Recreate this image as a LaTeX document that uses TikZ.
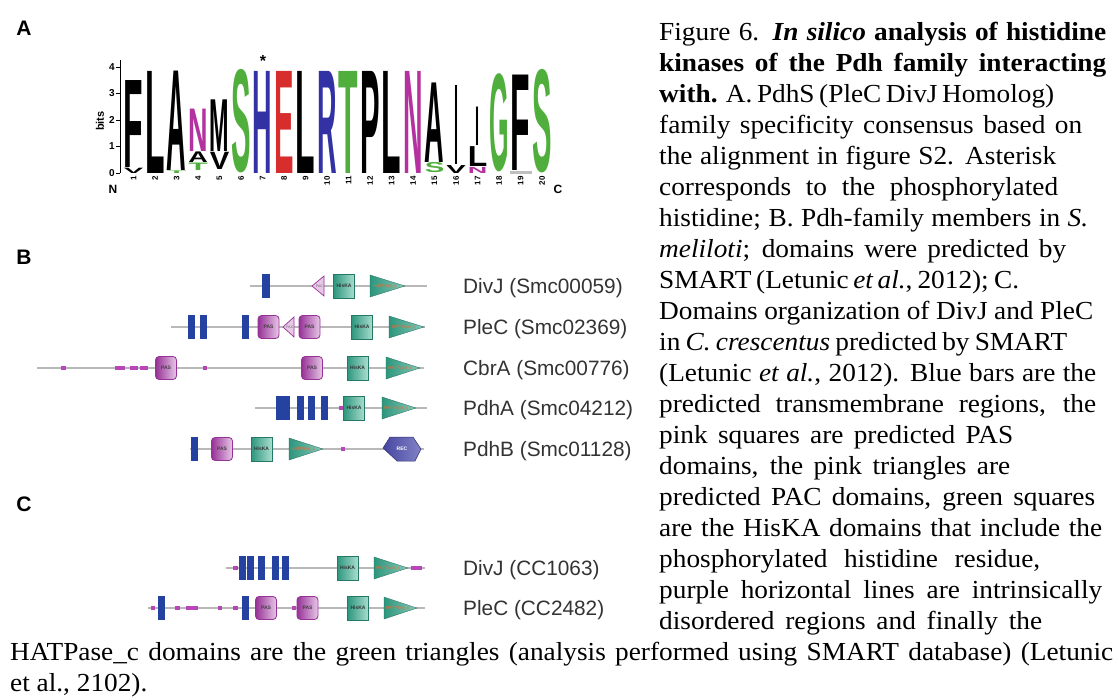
\documentclass[tikz,border=0pt]{standalone}
\usepackage{fontspec}
\usepackage{graphicx}
\setmainfont{Liberation Serif}
\newfontfamily\capfont[FakeStretch=1.05]{Liberation Serif}
\newfontfamily\arialf{Liberation Sans}
\definecolor{tmblue}{RGB}{38,66,160}
\definecolor{paspur}{RGB}{150,50,150}
\definecolor{paslight}{RGB}{232,200,232}
\definecolor{teal1}{RGB}{45,150,125}
\definecolor{teal2}{RGB}{170,222,208}
\definecolor{disp}{RGB}{185,70,185}
\definecolor{lgreen}{RGB}{80,175,60}
\definecolor{lblue}{RGB}{50,50,165}
\definecolor{lred}{RGB}{215,45,45}
\definecolor{lmag}{RGB}{180,50,160}
\definecolor{hatorange}{RGB}{255,100,40}
\definecolor{recblue}{RGB}{70,70,160}
\definecolor{reclight}{RGB}{130,130,200}
\tikzset{
 bbone/.style={draw=black!28, line width=1.6pt},
 tmbar/.style={rectangle, fill=tmblue, minimum width=7.5pt, minimum height=24pt, inner sep=0pt},
 pas/.style={rectangle, rounded corners=3.5pt, draw=paspur, line width=0.8pt, left color=paspur, right color=paslight, minimum width=21pt, minimum height=23pt, inner sep=0pt, font=\arialf\bfseries\fontsize{5}{5}\selectfont, text=black!75},
 hiska/.style={rectangle, draw=teal1!80!black, line width=0.5pt, left color=teal1, right color=teal2, minimum width=21pt, minimum height=24pt, inner sep=0pt, font=\arialf\bfseries\fontsize{5}{5}\selectfont, text=black!80},
 hattxt/.style={font=\arialf\fontsize{4.5}{4.5}\selectfont, text=hatorange, inner sep=0pt},
 hatp/.style={left color=teal1, right color=teal2!70!teal1, draw=teal1!70!black, line width=0.3pt},
 pacp/.style={fill=paslight, draw=paspur, line width=0.7pt},
 dis/.style={draw=disp, line width=4pt},
 recp/.style={left color=recblue, right color=reclight, draw=recblue!70!black, line width=0.5pt},
 lbl/.style={font=\arialf\fontsize{20.8}{24}\selectfont, text=black!80, inner sep=0pt, anchor=base west},
 panel/.style={font=\arialf\bfseries\fontsize{21}{24}\selectfont, inner sep=0pt},
 caption/.style={anchor=base west, inner sep=0pt, font=\capfont\fontsize{26}{31}\selectfont},
}
\newcommand\domHAT[4]{%
 \path[hatp] (#2,#4-11) -- (#3,#4) -- (#2,#4+11) -- cycle;
 \node[hattxt] (#1) at ({#2+(#3-#2)*0.42},#4) {HATPase\_c};}
\newcommand\domPAC[4]{%
 \path[pacp] (#3,#4-10) -- (#2,#4) -- (#3,#4+10) -- cycle;
 \node[font=\arialf\fontsize{3.5}{3.5}\selectfont, text=black!60, inner sep=0pt] (#1) at ({#2+(#3-#2)*0.62},#4) {PAC};}
\newcommand\domDis[3]{\draw[dis] (#1,#3) -- (#2,#3);}
\newcommand\logoL[7]{%
 \pgfmathsetmacro\lgh{(#4-#3)*26.5}%
 \node[anchor=south, inner sep=0pt, outer sep=0pt, text=#5] (#1) at ({112+21.5*#2},{173-26.5*#3}) {\resizebox{#7pt}{\lgh pt}{\arialf\bfseries #6}};}
\newcommand\capL[5]{%
 \node[caption] (#1) at (#2,{40+31*(#3-1)}) {\makebox[#4pt][s]{#5}};}
\begin{document}
\begin{tikzpicture}[x=1pt,y=-1pt]
\fill[white] (0,0) rectangle (1119,699);
\useasboundingbox (0,0) rectangle (1119,699);
% panel letters
\node[panel] (pA) at (24,28) {A};
\node[panel] (pB) at (24,257) {B};
\node[panel] (pC) at (24,504) {C};
% ---------- logo ----------
\draw[line width=0.8pt] (120,60) -- (120,173);
\foreach \b in {0,...,4}{
 \draw[line width=0.8pt] (116,{173-26.5*\b}) -- (120,{173-26.5*\b});
 \node[anchor=east, inner sep=0pt, font=\arialf\bfseries\fontsize{10}{10}\selectfont] (t\b) at (115,{173-26.5*\b}) {\b};
}
\node[rotate=90, inner sep=0pt, font=\arialf\bfseries\fontsize{11}{11}\selectfont] (bits) at (100,121) {bits};
\node[inner sep=0pt, font=\arialf\bfseries\fontsize{12}{12}\selectfont] (nN) at (113,189) {N};
\node[inner sep=0pt, font=\arialf\bfseries\fontsize{12}{12}\selectfont] (nC) at (558,189) {C};
\foreach \i in {1,...,20}
 \node[rotate=90, anchor=east, inner sep=0pt, font=\arialf\bfseries\fontsize{8}{8}\selectfont] (n\i) at ({112+21.5*\i},176) {\i};
\node[inner sep=0pt, font=\arialf\bfseries\fontsize{16}{16}\selectfont] (ast) at (263,61) {*};
\logoL{c1a}{1}{0}{0.2}{black}{V}{19.5}
\logoL{c1b}{1}{0.22}{3.5}{black}{F}{19.5}
\logoL{c2}{2}{0}{3.85}{black}{L}{19.5}
\logoL{c3a}{3}{0}{0.1}{lgreen}{T}{19.5}
\logoL{c3b}{3}{0.1}{3.85}{black}{A}{19.5}
\logoL{c4a}{4}{0.1}{0.38}{lgreen}{T}{19.5}
\logoL{c4b}{4}{0.4}{0.8}{black}{A}{19.5}
\logoL{c4c}{4}{0.8}{2.4}{lmag}{N}{19.5}
\logoL{c5a}{5}{0.15}{0.8}{black}{V}{19.5}
\logoL{c5b}{5}{0.8}{2.75}{black}{M}{19.5}
\logoL{c6}{6}{0}{3.85}{lgreen}{S}{19.5}
\logoL{c7}{7}{0}{3.85}{lblue}{H}{19.5}
\logoL{c8}{8}{0}{3.85}{lred}{E}{19.5}
\logoL{c9}{9}{0}{3.85}{black}{L}{19.5}
\logoL{c10}{10}{0}{3.85}{lblue}{R}{19.5}
\logoL{c11}{11}{0}{3.85}{lgreen}{T}{19.5}
\logoL{c12}{12}{0}{3.85}{black}{P}{19.5}
\logoL{c13}{13}{0}{3.85}{black}{L}{19.5}
\logoL{c14}{14}{0}{3.85}{lmag}{N}{19.5}
\logoL{c15a}{15}{0}{0.38}{lgreen}{S}{19.5}
\logoL{c15b}{15}{0.4}{3.4}{black}{A}{19.5}
\logoL{c16a}{16}{0}{0.3}{black}{V}{19.5}
\logoL{c16b}{16}{0.32}{3.3}{black}{I}{4}
\logoL{c17a}{17}{0}{0.23}{lmag}{N}{19.5}
\logoL{c17b}{17}{0.25}{1.0}{black}{L}{19.5}
\logoL{c17c}{17}{1.05}{2.5}{black}{I}{4}
\logoL{c18}{18}{0.05}{3.7}{lgreen}{G}{19.5}
\logoL{c19}{19}{0.1}{3.7}{black}{F}{19.5}
\logoL{c20}{20}{0}{3.85}{lgreen}{S}{19.5}
\fill[black!25] (510,171) rectangle (532,173.5);
% ---------- panel B ----------
% row 1 DivJ
\coordinate (b1s) at (250,286); \coordinate (b1e) at (427,286);
\draw[bbone] (b1s) -- (b1e);
\node[tmbar] (b1tm1) at (266,286) {};
\domPAC{b1pac}{312}{324}{286}
\node[hiska] (b1his) at (344,286) {HisKA};
\domHAT{b1hat}{370}{405}{286}
\node[lbl] (lb1) at (463,293) {DivJ (Smc00059)};
% row 2 PleC
\coordinate (b2s) at (171,327); \coordinate (b2e) at (425,327);
\draw[bbone] (b2s) -- (b2e);
\node[tmbar] (b2tm1) at (191.5,327) {};
\node[tmbar] (b2tm2) at (203.5,327) {};
\node[tmbar] (b2tm3) at (245.5,327) {};
\node[pas] (b2pas1) at (268.5,327) {PAS};
\domPAC{b2pac}{283}{294}{327}
\node[pas] (b2pas2) at (309.5,327) {PAS};
\node[hiska] (b2his) at (362,327) {HisKA};
\domHAT{b2hat}{389}{424}{327}
\node[lbl] (lb2) at (463,334) {PleC (Smc02369)};
% row 3 CbrA
\coordinate (b3s) at (37,368); \coordinate (b3e) at (424,368);
\draw[bbone] (b3s) -- (b3e);
\domDis{61}{66}{368}
\domDis{115}{125}{368}
\domDis{130}{138}{368}
\domDis{140}{148}{368}
\node[pas] (b3pas1) at (166,368) {PAS};
\domDis{203}{207}{368}
\node[pas] (b3pas2) at (312,368) {PAS};
\node[hiska] (b3his) at (357.5,368) {HisKA};
\domHAT{b3hat}{386}{420}{368}
\node[lbl] (lb3) at (463,375) {CbrA (Smc00776)};
% row 4 PdhA
\coordinate (b4s) at (255,408); \coordinate (b4e) at (427,408);
\draw[bbone] (b4s) -- (b4e);
\node[tmbar, minimum width=7pt] (b4tm1) at (279,408) {};
\node[tmbar, minimum width=7pt] (b4tm2) at (286.5,408) {};
\node[tmbar, minimum width=7pt] (b4tm3) at (300,408) {};
\node[tmbar, minimum width=7pt] (b4tm4) at (311,408) {};
\node[tmbar, minimum width=7pt] (b4tm5) at (324.5,408) {};
\domDis{339}{343}{408}
\node[hiska] (b4his) at (354,408) {HisKA};
\domHAT{b4hat}{382}{416}{408}
\node[lbl] (lb4) at (463,415) {PdhA (Smc04212)};
% row 5 PdhB
\coordinate (b5s) at (190,449); \coordinate (b5e) at (424,449);
\draw[bbone] (b5s) -- (b5e);
\node[tmbar] (b5tm1) at (194.5,449) {};
\node[pas] (b5pas) at (222,449) {PAS};
\node[hiska] (b5his) at (261.5,449) {HisKA};
\domHAT{b5hat}{289}{323}{449}
\domDis{341}{345}{449}
\path[recp] (383,448) -- (390,437) -- (413,437) -- (421,449) -- (415,461) -- (397,461) -- cycle;
\node[inner sep=0pt, font=\arialf\bfseries\fontsize{5}{5}\selectfont, text=white] (b5rec) at (402,449) {REC};
\node[lbl] (lb5) at (463,456) {PdhB (Smc01128)};
% ---------- panel C ----------
\coordinate (c1s) at (226,568); \coordinate (c1e) at (425,568);
\draw[bbone] (c1s) -- (c1e);
\domDis{233}{238}{568}
\node[tmbar, minimum width=7pt] (c1tm1) at (242.5,568) {};
\node[tmbar, minimum width=7pt] (c1tm2) at (250.5,568) {};
\node[tmbar, minimum width=7pt] (c1tm3) at (261,568) {};
\node[tmbar, minimum width=7pt] (c1tm4) at (275,568) {};
\node[tmbar, minimum width=7pt] (c1tm5) at (285,568) {};
\node[hiska] (c1his) at (347.5,568) {HisKA};
\domHAT{c1hat}{374}{408}{568}
\domDis{411}{422}{568}
\node[lbl] (lc1) at (463,575) {DivJ (CC1063)};
\coordinate (c2s) at (148,608); \coordinate (c2e) at (425,608);
\draw[bbone] (c2s) -- (c2e);
\domDis{151}{155}{608}
\node[tmbar] (c2tm1) at (161.5,608) {};
\domDis{175}{180}{608}
\domDis{186}{198}{608}
\domDis{218}{222}{608}
\domDis{233}{238}{608}
\node[tmbar] (c2tm2) at (245.5,608) {};
\node[pas] (c2pas1) at (266,608) {PAS};
\domDis{292}{296}{608}
\node[pas] (c2pas2) at (307.5,608) {PAS};
\node[hiska] (c2his) at (358,608) {HisKA};
\domHAT{c2hat}{384}{417}{608}
\node[lbl] (lc2) at (463,615) {PleC (CC2482)};
% ---------- caption ----------
\capL{L1}{659}{1}{447}{Figure 6. \textbf{\textit{In silico} analysis of histidine}}
\capL{L2}{659}{2}{447}{\textbf{kinases of the Pdh family interacting}}
\capL{L3}{659}{3}{390}{\textbf{with.} A. PdhS (PleC DivJ Homolog)}
\capL{L4}{659}{4}{423}{family specificity consensus based on}
\capL{L5}{659}{5}{397}{the alignment in figure S2. Asterisk}
\capL{L6}{659}{6}{399}{corresponds to the phosphorylated}
\capL{L7}{659}{7}{429}{histidine; B. Pdh-family members in \textit{S.}}
\capL{L8}{659}{8}{407}{\textit{meliloti}; domains were predicted by}
\capL{L9}{659}{9}{360}{SMART (Letunic \textit{et al.}, 2012); C.}
\capL{L10}{659}{10}{434}{Domains organization of DivJ and PleC}
\capL{L11}{659}{11}{408}{in \textit{C. crescentus} predicted by SMART}
\capL{L12}{659}{12}{437}{(Letunic \textit{et al.}, 2012). Blue bars are the}
\capL{L13}{659}{13}{437}{predicted transmembrane regions, the}
\capL{L14}{659}{14}{354}{pink squares are predicted PAS}
\capL{L15}{659}{15}{351}{domains, the pink triangles are}
\capL{L16}{659}{16}{436}{predicted PAC domains, green squares}
\capL{L17}{659}{17}{443}{are the HisKA domains that include the}
\capL{L18}{659}{18}{381}{phosphorylated histidine residue,}
\capL{L19}{659}{19}{443}{purple horizontal lines are intrinsically}
\capL{L20}{659}{20}{383}{disordered regions and finally the}
\capL{L21}{10}{21}{1103}{HATPase\_c domains are the green triangles (analysis performed using SMART database) (Letunic}
\node[caption] (L22) at (10,{40+31*21}) {et al., 2102).};
\end{tikzpicture}
\end{document}
